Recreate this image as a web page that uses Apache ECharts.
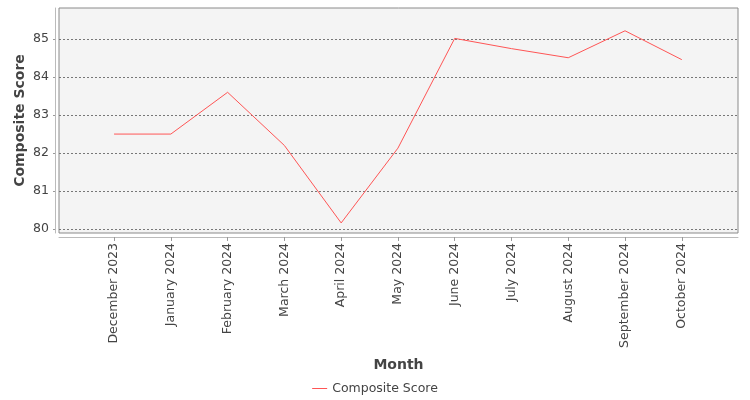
<!DOCTYPE html>
<html>
<head>
<meta charset="utf-8">
<script src="https://cdn.jsdelivr.net/npm/echarts@6/dist/echarts.min.js"></script>
<style>
  html, body { margin: 0; padding: 0; background: #fff; }
  #chart { width: 750px; height: 400px; }
</style>
</head>
<body>
<div id="chart"></div>
<script>
const months = ['December 2023', 'January 2024', 'February 2024', 'March 2024', 'April 2024',
  'May 2024', 'June 2024', 'July 2024', 'August 2024', 'September 2024', 'October 2024'];
const compositeScore = [82.5, 82.5, 83.6, 82.2, 80.16, 82.13, 85.02, 84.75, 84.51, 85.22, 84.46];
const yTicks = [80, 81, 82, 83, 84, 85];

const font = 'DejaVu Sans';
const textColor = '#444';
const idx = months.map((m, i) => i);

let chart = echarts.init(document.getElementById('chart'));
chart.setOption({
  animation: false,
  grid: {
    left: 59, top: 8, right: 12, bottom: 167,
    show: true,
    backgroundColor: '#f4f4f4',
    borderColor: '#8a8a8a',
    borderWidth: 1
  },
  xAxis: {
    type: 'value',
    min: -0.97,
    max: 10.99,
    offset: 4,
    name: 'Month',
    nameLocation: 'middle',
    nameGap: 121,
    nameMoveOverlap: false,
    nameTextStyle: { fontFamily: font, fontSize: 14, fontWeight: 'bold', color: textColor },
    axisLine: { show: true, onZero: false, lineStyle: { color: '#bbb', width: 1 } },
    axisTick: { show: true, length: 4, customValues: idx, lineStyle: { color: '#999' } },
    axisLabel: {
      customValues: idx,
      rotate: 90,
      margin: 6,
      fontFamily: font,
      fontSize: 12.5,
      color: textColor,
      formatter: v => months[Math.round(v)]
    },
    splitLine: { show: false }
  },
  yAxis: {
    type: 'value',
    min: 79.895,
    max: 85.82,
    offset: 4,
    name: 'Composite Score',
    nameLocation: 'middle',
    nameGap: 28,
    nameMoveOverlap: false,
    nameTextStyle: { fontFamily: font, fontSize: 14, fontWeight: 'bold', color: textColor },
    axisLine: { show: true, onZero: false, lineStyle: { color: '#bbb', width: 1 } },
    axisTick: { show: true, length: 2, customValues: yTicks, lineStyle: { color: '#999' } },
    axisLabel: {
      customValues: yTicks,
      margin: 6,
      fontFamily: font,
      fontSize: 12.5,
      color: textColor
    },
    splitLine: {
      show: true,
      lineStyle: { color: '#777', width: 1, type: [2, 2] }
    }
  },
  legend: {
    bottom: 0,
    left: 'center',
    icon: 'rect',
    itemWidth: 15,
    itemHeight: 1,
    itemGap: 4,
    textStyle: { fontFamily: font, fontSize: 12.5, color: textColor },
    data: ['Composite Score']
  },
  series: [{
    name: 'Composite Score',
    type: 'line',
    symbol: 'none',
    lineStyle: { color: '#ff5555', width: 1 },
    itemStyle: { color: '#ff5555' },
    data: compositeScore.map((v, i) => [i, v])
  }]
});
</script>
</body>
</html>
